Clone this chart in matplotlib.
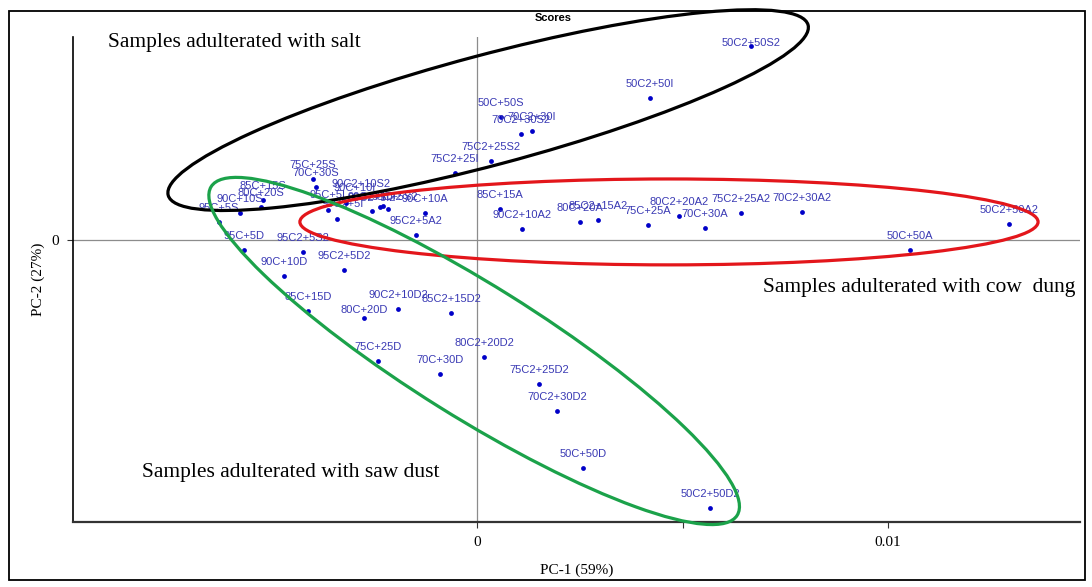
import matplotlib
matplotlib.use("Agg")
import matplotlib.pyplot as plt
from matplotlib.patches import Ellipse, Rectangle

# PCA scores (PC-1, PC-2)
salt_labels = ["50C2+50S2", "50C2+50I", "50C+50S", "70C2+30I", "70C2+30S2", "75C2+25S2",
               "75C2+25I", "75C+25S", "70C+30S", "85C+15S", "80C+20S", "90C+10S", "95C+5S",
               "90C+10I", "90C2+10S2", "95C+5I", "95C2+5I", "90C2+10I2", "95C2+5I2", "95C+5S2"]
salt_x = [0.00667, 0.00421, 0.00058, 0.00134, 0.00107, 0.00034,
          -0.00054, -0.00399, -0.00392, -0.00521, -0.00526, -0.00577, -0.00628,
          -0.00319, -0.00229, -0.00363, -0.00341, -0.00236, -0.00256, -0.00217]
salt_y = [0.00472, 0.00346, 0.00299, 0.00265, 0.00258, 0.00192,
          0.00163, 0.00148, 0.00129, 0.00097, 0.00080, 0.00066, 0.00044,
          0.00090, 0.00083, 0.00073, 0.00051, 0.00080, 0.00071, 0.00075]

dung_labels = ["90C+10A", "95C2+5A2", "85C+15A", "90C2+10A2", "80C+20A", "85C2+15A2",
               "75C+25A", "80C2+20A2", "70C+30A", "75C2+25A2", "70C2+30A2", "50C2+50A2", "50C+50A"]
dung_x = [-0.00127, -0.00148, 0.00056, 0.00110, 0.00251, 0.00294,
          0.00416, 0.00492, 0.00555, 0.00642, 0.00791, 0.01294, 0.01054]
dung_y = [0.00066, 0.00012, 0.00075, 0.00027, 0.00044, 0.00049,
          0.00037, 0.00058, 0.00029, 0.00066, 0.00068, 0.00039, -0.00024]

dust_labels = ["95C+5D", "95C2+5S2", "90C+10D", "95C2+5D2", "85C+15D", "80C+20D", "90C2+10D2",
               "85C2+15D2", "75C+25D", "70C+30D", "80C2+20D2", "75C2+25D2", "70C2+30D2",
               "50C+50D", "50C2+50D2"]
dust_x = [-0.00567, -0.00423, -0.00470, -0.00324, -0.00411, -0.00275, -0.00192,
          -0.00063, -0.00241, -0.00090, 0.00017, 0.00151, 0.00195,
          0.00258, 0.00567]
dust_y = [-0.00024, -0.00029, -0.00088, -0.00073, -0.00173, -0.00190, -0.00168,
          -0.00178, -0.00294, -0.00326, -0.00285, -0.00350, -0.00416,
          -0.00555, -0.00652]

# label offsets in points where the default (centered above the dot) differs
label_offsets = {"50C2+50S2": (0, 2), "80C+20D": (0, 6),
                 "90C+10I": (6, 11), "90C2+10S2": (-16, 16), "95C+5I": (0, 11),
                 "95C2+5I": (4, 11), "90C2+10I2": (-4, 7), "95C2+5I2": (0, 9),
                 "95C+5S2": (5, 9)}

# group ellipses: (center x, center y, width, height, angle, colour)
groups = [
    ("salt", 0.00027, 0.00316, 0.01611, 0.00268, 14.9, "black"),
    ("dung", 0.00467, 0.00044, 0.01796, 0.00209, 0.0, "#e3161b"),
    ("dust", -0.00007, -0.00270, 0.01509, 0.00321, -32.0, "#1ba24a"),
]

W, H = 1092, 587
fig = plt.figure(figsize=(W / 100, H / 100), dpi=100)
ax = fig.add_axes([73 / W, 1 - 522 / H, (1080 - 73) / W, (522 - 37) / H])

ax.set_xlim(-0.00983, 0.01467)
ax.set_ylim(-0.006861, 0.004939)

ax.axhline(0, color="#8c8c8c", lw=0.9, zorder=1)
ax.axvline(0, color="#8c8c8c", lw=0.9, zorder=1)

label_font = ["Liberation Sans", "DejaVu Sans"]
for labels, xs, ys in [(salt_labels, salt_x, salt_y),
                       (dung_labels, dung_x, dung_y),
                       (dust_labels, dust_x, dust_y)]:
    ax.scatter(xs, ys, s=12, color="#0000c8", zorder=3, linewidths=0)
    for lab, x, y in zip(labels, xs, ys):
        off = label_offsets.get(lab, (0, 10))
        ax.annotate(lab, (x, y), xytext=off, textcoords="offset points",
                    ha="center", va="center", fontsize=8, color="#3a3ab4",
                    family=label_font, zorder=4)

for name, cx, cy, w, h, ang, col in groups:
    ax.add_patch(Ellipse((cx, cy), w, h, angle=ang, fill=False, edgecolor=col,
                         lw=2.3, zorder=5, clip_on=False))

serif = ["Liberation Serif", "DejaVu Serif"]
ax.set_xticks([0, 0.01])
ax.set_xticklabels(["0", "0.01"], family=serif, fontsize=11)
ax.set_xticks([0.005], minor=True)
ax.set_yticks([0])
ax.set_yticklabels(["0"], family=serif, fontsize=11)
ax.tick_params(axis="both", which="both", direction="out", length=4, width=0.8, pad=6,
               color="#333333")
ax.tick_params(axis="x", which="minor", labelbottom=False)

ax.spines["top"].set_visible(False)
ax.spines["right"].set_visible(False)
ax.spines["left"].set_linewidth(1.2)
ax.spines["bottom"].set_linewidth(1.6)
ax.spines["bottom"].set_color("#333333")

ax.set_xlabel("PC-1 (59%)", family=serif, fontsize=11)
ax.set_ylabel("PC-2 (27%)", family=serif, fontsize=11)
ax.xaxis.set_label_coords(0.5, -0.085)
ax.yaxis.set_label_coords(-0.028, 0.5)

fig.text(553 / W, 1 - 18 / H, "Scores", ha="center", va="center", fontsize=8,
         fontweight="bold", family=label_font)

fig.text(108 / W, 1 - 42 / H, "Samples adulterated with salt", ha="left", va="center",
         fontsize=15.5, family=serif)
fig.text(1075 / W, 1 - 288 / H, "Samples adulterated with cow  dung", ha="right",
         va="center", fontsize=15.5, family=serif)
fig.text(440 / W, 1 - 473 / H, "Samples adulterated with saw dust", ha="right",
         va="center", fontsize=15.5, family=serif)

fig.patches.append(Rectangle((9 / W, 1 - 580 / H), (1085 - 9) / W, (580 - 11) / H,
                             transform=fig.transFigure, fill=False, lw=1.3,
                             edgecolor="black"))

fig.savefig("out.png", dpi=100)
